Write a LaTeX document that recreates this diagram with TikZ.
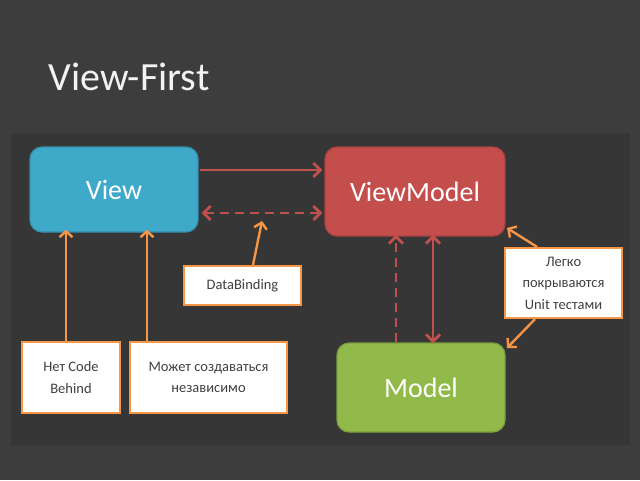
\documentclass[tikz,border=0pt]{standalone}
\usepackage{fontspec}
\setmainfont{Carlito}
\usetikzlibrary{arrows.meta}
\definecolor{bgout}{HTML}{3D3D3D}
\definecolor{bgin}{HTML}{363636}
\definecolor{vblue}{HTML}{3FA9CA}
\definecolor{vred}{HTML}{C44E4C}
\definecolor{vgreen}{HTML}{92BA4A}
\definecolor{lred}{HTML}{C0504D}
\definecolor{lorange}{HTML}{F79646}
\definecolor{titlecol}{HTML}{F2F2F2}
\tikzset{
  bigbox/.style={rounded corners=12pt, fill=#1, draw=#1!85!black, line width=1.2pt,
    text=white, font=\fontsize{28}{34}\selectfont, inner sep=0pt},
  notebox/.style={fill=white, draw=lorange, line width=2.2pt, align=center,
    text=black!75, font=\fontsize{14.5}{21.5}\selectfont, inner sep=0pt},
  redarrow/.style={draw=lred, line width=2.8pt, -{Straight Barb[length=7pt,width=14pt]}},
  redboth/.style={draw=lred, line width=2.8pt, {Straight Barb[length=7pt,width=14pt]}-{Straight Barb[length=7pt,width=14pt]}},
  redalt/.style={dash pattern=on 9pt off 6pt},
  orangearrow/.style={draw=lorange, line width=2.4pt, -{Straight Barb[length=6pt,width=13pt]}}
}
\begin{document}
\begin{tikzpicture}[x=1pt,y=-1pt]
\fill[bgout] (0,0) rectangle (640,480);
\fill[bgin] (11,133) rectangle (630,445);
\node[anchor=west, text=titlecol, font=\fontsize{40}{48}\selectfont] (title) at (45,77) {View-First};

\node[bigbox=vblue, minimum width=168pt, minimum height=85pt] (V) at (114,189.5) {View};
\node[bigbox=vred, minimum width=180pt, minimum height=89pt] (VM) at (415,191.5) {ViewModel};
\node[bigbox=vgreen, minimum width=168pt, minimum height=89pt] (M) at (421,387.5) {Model};

\node[notebox, minimum width=117pt, minimum height=39pt] (DB) at (242.5,285.5) {DataBinding};
\node[notebox, minimum width=98pt, minimum height=71pt] (N1) at (71,377.5) {Нет Code\\Behind};
\node[notebox, minimum width=157pt, minimum height=71pt] (N2) at (208.5,377.5) {Может создаваться\\независимо};
\node[notebox, minimum width=117pt, minimum height=70pt] (N3) at (563.5,283) {Легко\\покрываются\\Unit тестами};

\coordinate (y170) at (0,170);
\coordinate (y213) at (0,213);
\coordinate (x396) at (396,0);
\coordinate (x433) at (433,0);
\coordinate (x66) at (66,0);
\coordinate (x147) at (147,0);
\coordinate (dbtip) at (262,221);
\coordinate (dbfoot) at (253,0);
\coordinate (vmcorner) at (507,228);
\coordinate (mcorner) at (507,348);
\coordinate (n3top) at (537,0);
\coordinate (n3bot) at (535,0);

\draw[redarrow] ([xshift=1pt]V.east |- y170) -- ([xshift=-2pt]VM.west |- y170);
\draw[redboth, redalt] ([xshift=3pt]V.east |- y213) -- ([xshift=-2pt]VM.west |- y213);
\draw[redarrow, redalt] (x396 |- M.north) -- ([yshift=2pt]x396 |- VM.south);
\draw[redboth] ([yshift=-1pt]x433 |- M.north) -- ([yshift=2pt]x433 |- VM.south);

\draw[orangearrow] (dbfoot |- DB.north) -- (dbtip);
\draw[orangearrow] (x66 |- N1.north) -- ([yshift=3pt]x66 |- V.south);
\draw[orangearrow] (x147 |- N2.north) -- ([yshift=3pt]x147 |- V.south);
\draw[orangearrow] (n3top |- N3.north) -- (vmcorner);
\draw[orangearrow] (n3bot |- N3.south) -- (mcorner);
\end{tikzpicture}
\end{document}
